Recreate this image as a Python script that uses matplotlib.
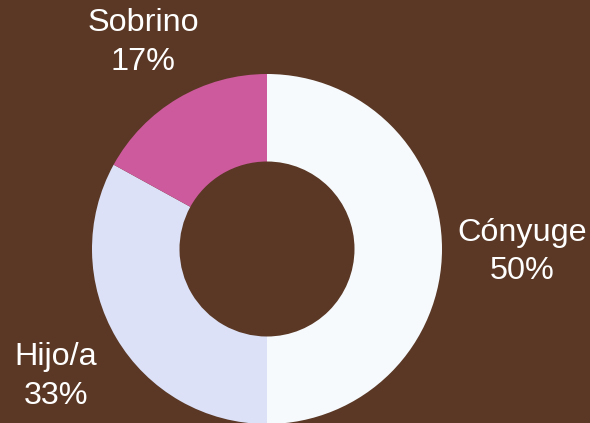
import matplotlib
matplotlib.use("Agg")
import matplotlib.pyplot as plt
import numpy as np

categories = ["Cónyuge", "Hijo/a", "Sobrino"]
values = [50, 33, 17]
colors = ["#f7fafd", "#dce1f7", "#cd5a9d"]
label_dist = [1.46, 1.40, 1.39]

bg = "#5a3825"
fig = plt.figure(figsize=(5.9, 4.23), dpi=100, facecolor=bg)
ax = fig.add_axes([0, 0, 1, 1])
ax.set_facecolor(bg)

cx, cy, R = 267, 174, 175
wedges, _ = ax.pie(values, colors=colors, startangle=90, counterclock=False,
                   center=(cx, cy), radius=R, frame=True,
                   wedgeprops=dict(width=R * 0.5, edgecolor="none", linewidth=0))
ax.set_xlim(0, 590)
ax.set_ylim(0, 423)
ax.set_aspect("equal")
ax.axis("off")

total = sum(values)
for w, cat, v, d in zip(wedges, categories, values, label_dist):
    ang = np.deg2rad((w.theta1 + w.theta2) / 2)
    x = cx + R * d * np.cos(ang)
    y = cy + R * d * np.sin(ang) - 3
    ax.text(x, y, f"{cat}\n{round(100 * v / total)}%", ha="center", va="center",
            color="white", fontsize=23.3, family="Liberation Sans", linespacing=1.37)

fig.savefig("out.png", dpi=100, facecolor=bg)
